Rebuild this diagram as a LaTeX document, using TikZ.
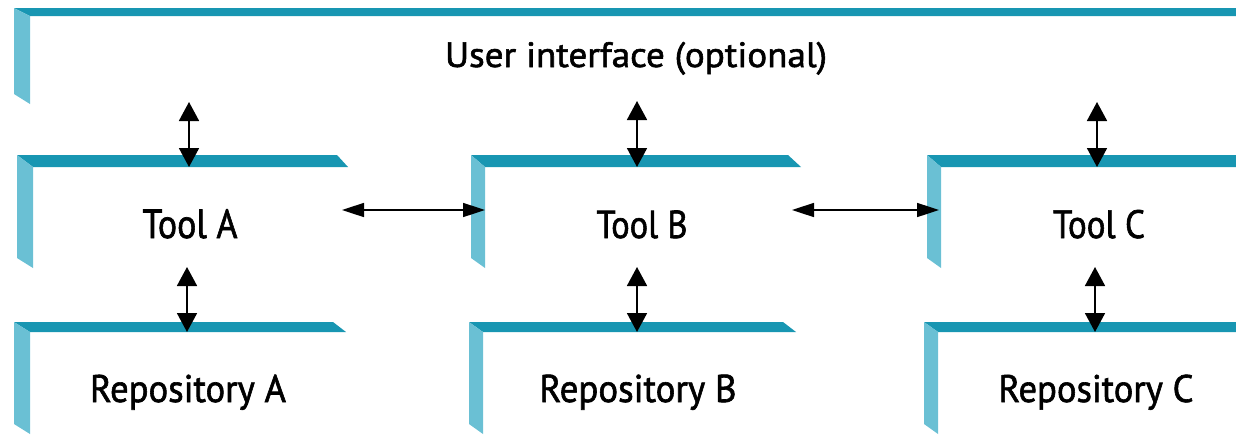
\documentclass[tikz,border=0pt]{standalone}
\usepackage{fontspec}
\setmainfont{PT Sans}[FakeBold=1.6]
\usetikzlibrary{arrows.meta}
\definecolor{bandtop}{RGB}{24,150,178}
\definecolor{bandside}{RGB}{106,192,212}
\tikzset{
  lbl/.style={anchor=base, inner sep=0pt, text=black},
  vlink/.style={{Triangle[length=19pt,width=20pt]}-{Triangle[length=19pt,width=20pt]}, line width=1.8pt},
  hlink/.style={{Triangle[length=22pt,width=14pt]}-{Triangle[length=22pt,width=14pt]}, line width=1.6pt},
}
% bevelled L-shaped frame: left x, top y, top-band right end (top edge, bottom edge),
% band thickness (top), band thickness (side), side bottom (outer edge)
\newcommand{\frameL}[7]{%
  \fill[bandtop] (#1,#2) -- (#3,#2) -- (#4,#2+#5) -- (#1+#6,#2+#5) -- cycle;
  \fill[bandside] (#1,#2) -- (#1+#6,#2+#5) -- (#1+#6,#7+10) -- (#1,#7) -- cycle;
}
\begin{document}
\begin{tikzpicture}[x=1pt,y=-1pt]
\useasboundingbox (0,0) rectangle (1236,434);

% user interface frame
\frameL{14}{8}{1236}{1236}{8}{16}{94}
% tool frames
\frameL{17}{155}{337}{348}{12}{16}{258}
\frameL{471}{155}{788}{801}{12}{14}{258}
\frameL{927}{155}{1236}{1236}{12}{14}{258}
% repository frames
\frameL{14}{322}{333}{346}{10}{16}{424}
\frameL{469}{322}{783}{796}{10}{14}{424}
\frameL{924}{322}{1236}{1236}{10}{14}{424}

% labels
\node[lbl] (ui) at (636,67) {\scalebox{1}[0.95]{\resizebox{382pt}{!}{User interface (optional)}}};
\node[lbl] (toolA) at (190,238) {\scalebox{1}[1.13]{\resizebox{95pt}{!}{Tool A}}};
\node[lbl] (toolB) at (642,238) {\scalebox{1}[1.13]{\resizebox{91pt}{!}{Tool B}}};
\node[lbl] (toolC) at (1099,238) {\scalebox{1}[1.13]{\resizebox{92pt}{!}{Tool C}}};
\node[lbl] (repoA) at (188,402) {\scalebox{1}[1.05]{\resizebox{196pt}{!}{Repository A}}};
\node[lbl] (repoB) at (638,402) {\scalebox{1}[1.05]{\resizebox{197pt}{!}{Repository B}}};
\node[lbl] (repoC) at (1096,402) {\scalebox{1}[1.05]{\resizebox{195pt}{!}{Repository C}}};

% connector end points on the frame bands
\coordinate (uiA) at (189,102);  \coordinate (tAu) at (189,167);
\coordinate (uiB) at (637,101);  \coordinate (tBu) at (637,167);
\coordinate (uiC) at (1097,102); \coordinate (tCu) at (1097,167);
\coordinate (tAd) at (187,267);  \coordinate (rA) at (187,332);
\coordinate (tBd) at (637,267);  \coordinate (rB) at (637,332);
\coordinate (tCd) at (1095,267); \coordinate (rC) at (1095,332);
\coordinate (tAr) at (342,210);  \coordinate (tBl) at (485,210);
\coordinate (tBr) at (792,210);  \coordinate (tCl) at (939,210);

% connectors
\draw[vlink] (uiA) -- (tAu);
\draw[vlink] (uiB) -- (tBu);
\draw[vlink] (uiC) -- (tCu);
\draw[vlink] (tAd) -- (rA);
\draw[vlink] (tBd) -- (rB);
\draw[vlink] (tCd) -- (rC);
\draw[hlink] (tAr) -- (tBl);
\draw[hlink] (tBr) -- (tCl);
\end{tikzpicture}
\end{document}
